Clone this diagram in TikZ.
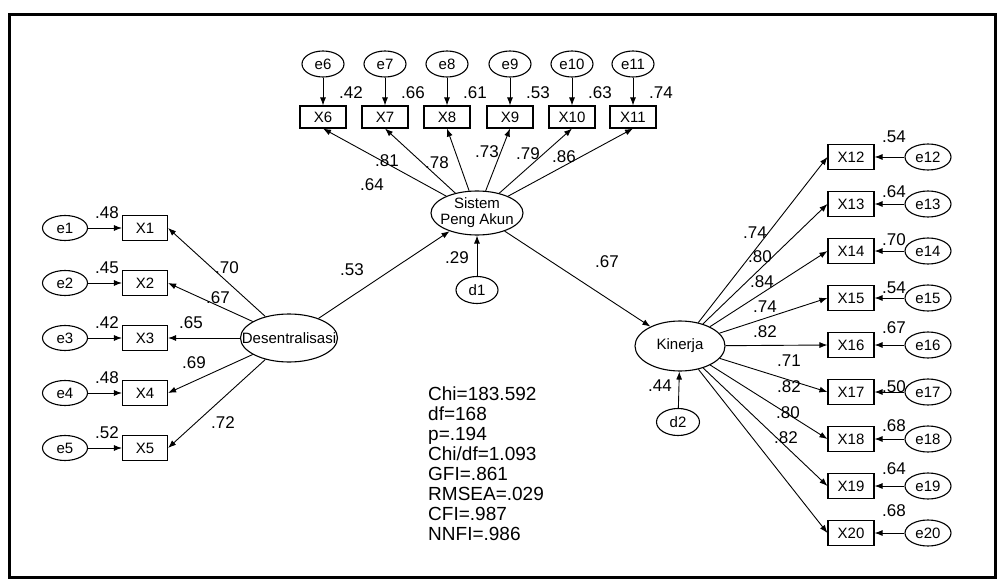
\documentclass[tikz,border=0pt]{standalone}
\usepackage{fontspec}
\setmainfont{Liberation Sans}
\usetikzlibrary{arrows.meta,shapes.geometric}
\begin{document}
\begin{tikzpicture}[x=1pt,y=-1pt,
  obs/.style={draw,rectangle,minimum width=46pt,minimum height=24pt,inner sep=0pt,font=\fontsize{15}{16}\selectfont,line width=1.1pt},
  err/.style={draw,ellipse,minimum width=45pt,minimum height=25pt,inner sep=0pt,font=\fontsize{15}{16}\selectfont,line width=1.1pt},
  lat/.style={draw,ellipse,inner sep=0pt,line width=1.1pt},
  lattext/.style={inner sep=0pt,font=\fontsize{15}{16}\selectfont,align=center},
  lbl/.style={font=\fontsize{17}{18}\selectfont,inner sep=0pt},
  arr/.style={-{Latex[length=8pt,width=6pt]},line width=0.9pt},
]
\useasboundingbox (0,0) rectangle (998,588);
\draw[line width=3pt] (9,15) rectangle (995,577);

% top indicators
\foreach \i/\x/\v in {6/323/.42,7/385/.66,8/447/.61,9/510/.53,10/572/.63,11/633/.74} {
  \node[err,minimum width=42pt,minimum height=26pt] (e\i) at (\x,64) {e\i};
  \node[obs,minimum height=22pt] (X\i) at (\x,117) {X\i};
  \draw[arr] (e\i) -- (X\i);
  \node[lbl] (v\i) at (\x+28,93) {\v};
}
\node[lat,minimum width=92pt,minimum height=44pt] (S) at (477,213) {};
\node[lattext] (St) at (S) {Sistem\\Peng Akun};
\foreach \i in {6,...,11} { \draw[arr] (S) -- (X\i.south); }
\node[lbl] (l6a) at (387,161) {.81};
\node[lbl] (l6b) at (372,185) {.64};
\node[lbl] (l8) at (437,163) {.78};
\node[lbl] (l9) at (487,152) {.73};
\node[lbl] (l10) at (528,154) {.79};
\node[lbl] (l11) at (564,157) {.86};
\node[err,minimum width=42pt,minimum height=27pt] (d1) at (477,290) {d1};
\draw[arr] (d1) -- (S);
\node[lbl] (ld1) at (457,258) {.29};

% left indicators
\node[lat,minimum width=97pt,minimum height=48pt] (D) at (289,338) {};
\node[lattext] (Dt) at (D) {Desentralisasi};
\foreach \i/\y/\v in {1/228/.48,2/283/.45,3/338/.42,4/393/.48,5/448/.52} {
  \node[err] (e\i) at (65,\y) {e\i};
  \node[obs,minimum width=45pt,minimum height=25pt] (X\i) at (145,\y) {X\i};
  \draw[arr] (e\i) -- (X\i);
  \node[lbl] (v\i) at (107,\y-15) {\v};
  \draw[arr] (D) -- (X\i.east);
}
\node[lbl] (l1) at (227,268) {.70};
\node[lbl] (l2) at (218,298) {.67};
\node[lbl] (l3) at (191,323) {.65};
\node[lbl] (l4) at (194,363) {.69};
\node[lbl] (l5) at (223,423) {.72};
\draw[arr] (D) -- (S);
\node[lbl] (lDS) at (352,270) {.53};

% right indicators
\node[lat,minimum width=90pt,minimum height=50pt] (K) at (680,346) {};
\node[lattext] (Kt) at (K) {Kinerja};
\draw[arr] (S) -- (K);
\node[lbl] (lSK) at (607,262) {.67};
\node[err,minimum width=43pt,minimum height=27pt] (d2) at (678,422) {d2};
\draw[arr] (d2) -- (K);
\node[lbl] (ld2) at (660,386) {.44};
\foreach \i/\y/\vy/\v in {12/157/137/.54,13/204/192/.64,14/251/240/.70,15/298/288/.54,16/345/328/.67,17/392/387/.50,18/439/426/.68,19/486/469/.64,20/533/511/.68} {
  \node[obs,minimum width=46pt,minimum height=25pt] (X\i) at (851,\y) {X\i};
  \node[err,minimum width=46pt,minimum height=26pt] (e\i) at (928,\y) {e\i};
  \draw[arr] (e\i) -- (X\i);
  \draw[arr] (K) -- (X\i.west);
  \node[lbl] (v\i) at (894,\vy) {\v};
}
\node[lbl] (l12) at (755,233) {.74};
\node[lbl] (l13) at (760,257) {.80};
\node[lbl] (l14) at (762,282) {.84};
\node[lbl] (l15) at (765,307) {.74};
\node[lbl] (l16) at (765,332) {.82};
\node[lbl] (l17) at (789,361) {.71};
\node[lbl] (l18) at (789,387) {.82};
\node[lbl] (l19) at (788,413) {.80};
\node[lbl] (l20) at (786,438) {.82};

% fit statistics
\node[anchor=north west,align=left,inner sep=0pt,font=\fontsize{19}{20}\selectfont] (stats) at (428,387)
  {Chi=183.592\\df=168\\p=.194\\Chi/df=1.093\\GFI=.861\\RMSEA=.029\\CFI=.987\\NNFI=.986};
\end{tikzpicture}
\end{document}
